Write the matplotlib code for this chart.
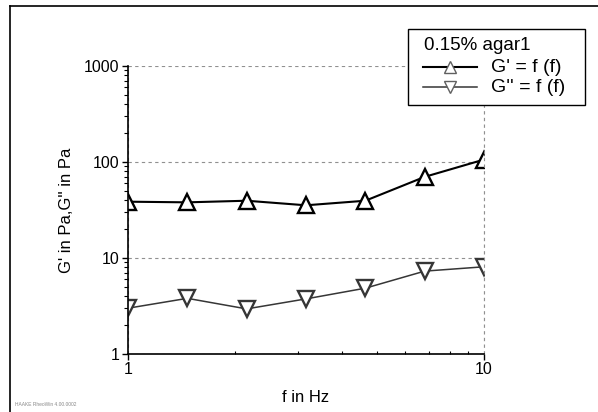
import matplotlib
matplotlib.use("Agg")
import matplotlib.pyplot as plt
from matplotlib.lines import Line2D
from matplotlib.patches import Rectangle
from matplotlib.ticker import FixedLocator, FixedFormatter, LogLocator, NullFormatter

plt.rcParams['font.family'] = ['Liberation Sans', 'DejaVu Sans']

# data
freq = [1.0, 1.468, 2.154, 3.162, 4.642, 6.813, 10.0]
g_storage = [38.6, 38.0, 39.5, 35.4, 39.5, 70.0, 106.0]
g_loss = [3.0, 3.8, 2.95, 3.75, 4.85, 7.3, 8.1]

sample_name = "0.15% agar1"
label_gp = "G' = f (f)"
label_gpp = "G'' = f (f)"

W, H = 598, 412


def fx(px):
    return px / W


def fy(py):
    return 1 - py / H


fig = plt.figure(figsize=(5.98, 4.12), dpi=100)
ax = fig.add_axes([fx(128), fy(354), (484 - 128) / W, (354 - 66) / H])

gp_style = dict(color="black", lw=1.5)
gpp_style = dict(color="#363636", lw=1.1)

ax.plot(freq, g_storage, marker="^", ms=11, mfc="white", mec="black", mew=1.7, **gp_style)
ax.plot(freq, g_loss, marker="v", ms=11, mfc="white", mec="#363636", mew=1.7, **gpp_style)

ax.set_xscale("log")
ax.set_yscale("log")
ax.set_xlim(1, 10)
ax.set_ylim(1, 1000)

ax.xaxis.set_major_locator(FixedLocator([1, 10]))
ax.xaxis.set_major_formatter(FixedFormatter(["1", "10"]))
ax.yaxis.set_major_locator(FixedLocator([1, 10, 100, 1000]))
ax.yaxis.set_major_formatter(FixedFormatter(["1", "10", "100", "1000"]))
ax.xaxis.set_minor_locator(LogLocator(base=10, subs=range(2, 10)))
ax.yaxis.set_minor_locator(LogLocator(base=10, subs=range(2, 10)))
ax.xaxis.set_minor_formatter(NullFormatter())
ax.yaxis.set_minor_formatter(NullFormatter())

ax.tick_params(which="major", direction="out", length=4, width=1, labelsize=11.5, pad=2)
ax.tick_params(axis="y", which="minor", direction="out", length=3, width=0.8)
ax.tick_params(axis="x", which="minor", direction="in", length=2, width=0.8)

ax.grid(True, which="major", color="#909090", ls=(0, (3, 3)), lw=0.8)
ax.axvline(10, color="#909090", ls=(0, (3, 3)), lw=0.8, clip_on=False)
for s in ["top", "right"]:
    ax.spines[s].set_visible(False)
for s in ["left", "bottom"]:
    ax.spines[s].set_linewidth(1.2)

ax.set_xlabel("f in Hz", fontsize=12, labelpad=9)
ax.set_ylabel("G' in Pa,G'' in Pa", fontsize=12, labelpad=7)

# legend box like the RheoWin one
fig.add_artist(Rectangle((fx(408), fy(105)), (585 - 408) / W, (105 - 29) / H,
                         transform=fig.transFigure, facecolor="white",
                         edgecolor="black", lw=1.0))
fig.text(fx(424), fy(46), sample_name, fontsize=13.5, va="center", ha="left")
rows = [(label_gp, "^", gp_style, 67), (label_gpp, "v", gpp_style, 87)]
for lab, mk, st, py in rows:
    fig.add_artist(Line2D([fx(423), fx(477)], [fy(py), fy(py)], **st))
    fig.add_artist(Line2D([fx(450)], [fy(py)], marker=mk, ms=9, mfc="white",
                          mec="#606060", mew=1.0, ls="none"))
    fig.text(fx(491), fy(py), lab, fontsize=14, va="center", ha="left")

# screenshot frame lines and footer
fig.add_artist(Line2D([fx(10), fx(10)], [0, fy(6)], color="black", lw=1.2))
fig.add_artist(Line2D([fx(10), 1], [fy(6), fy(6)], color="black", lw=1.2))
fig.text(fx(15), fy(404), "HAAKE RheoWin 4.00.0002", fontsize=3.5,
         color="#888888", va="center")

fig.savefig("out.png", dpi=100)
